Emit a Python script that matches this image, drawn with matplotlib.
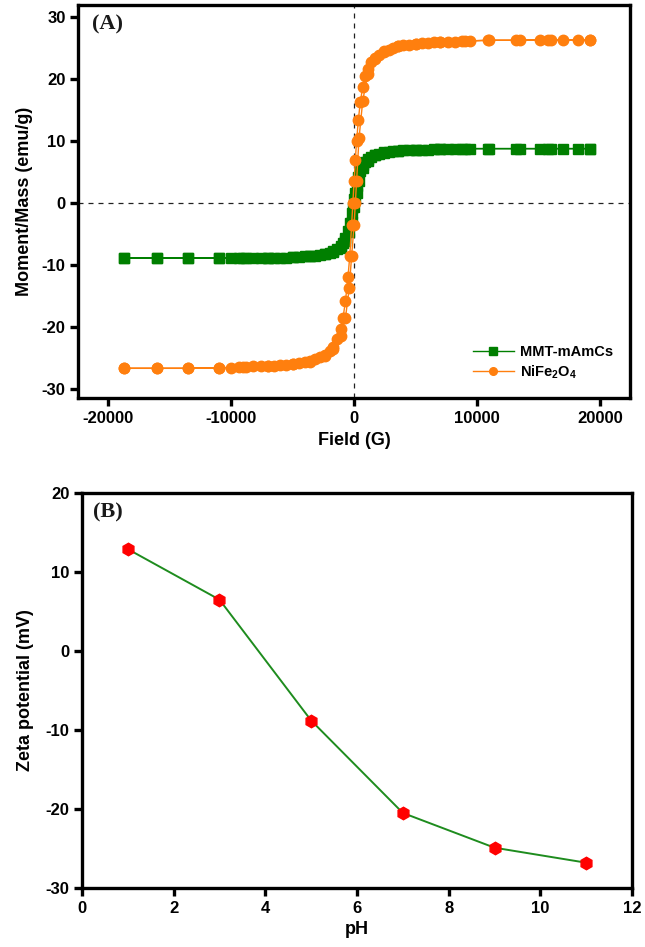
import matplotlib
matplotlib.use("Agg")
import matplotlib.pyplot as plt

plt.rcParams.update(
    {
        "font.family": ["Liberation Sans", "DejaVu Sans"],
        "font.weight": "bold",
        "axes.labelweight": "bold",
        "axes.unicode_minus": False,
        "mathtext.default": "regular",
    }
)

# VSM loops: descending branch (+ -> -) on FIELD_DOWN, ascending branch on FIELD_UP
FIELD_DOWN = [19200, 18200, 17000, 15800, 15100, 13200, 10900, 9400, 8800, 8200,
              7600, 7000, 6500, 6000, 5500, 5000, 4500, 4000, 3600, 3200,
              2800, 2400, 2000, 1700, 1400, 1100, 900, 700, 500, 350,
              200, 100, 0, -100, -200, -350, -500, -700, -900, -1100,
              -1400, -1700, -2000, -2400, -2800, -3200, -3600, -4000, -4500, -5000,
              -5500, -6000, -6500, -7000, -7600, -8200, -8800, -9400, -10000, -11000,
              -13500, -16000, -18700]
FIELD_UP = [-18700, -16000, -13500, -11000, -9000, -7000, -5000, -3600, -2400, -1700,
            -1100, -700, -400, -200, 0, 100, 200, 400, 700, 1100,
            1700, 2400, 3600, 5000, 7000, 9000, 11000, 13500, 16000, 19200]

MMT_DOWN = [8.8, 8.8, 8.8, 8.8, 8.8, 8.8, 8.8, 8.8, 8.8, 8.7,
            8.7, 8.7, 8.7, 8.6, 8.6, 8.6, 8.5, 8.5, 8.4, 8.4,
            8.3, 8.2, 8.0, 7.8, 7.5, 7.1, 6.7, 6.1, 5.2, 4.2,
            2.8, 1.6, 0.6, -0.6, -1.6, -3.3, -4.5, -5.6, -6.4, -6.9,
            -7.4, -7.8, -8.0, -8.2, -8.4, -8.5, -8.6, -8.6, -8.7, -8.7,
            -8.8, -8.8, -8.8, -8.8, -8.9, -8.9, -8.9, -8.9, -8.9, -8.9,
            -8.9, -8.9, -8.9]
MMT_UP = [-8.9, -8.9, -8.9, -8.9, -8.9, -8.8, -8.7, -8.6, -8.2, -7.9,
          -7.2, -6.2, -4.7, -3.0, -0.6, 0.6, 1.7, 3.6, 5.7, 6.8,
          7.7, 8.1, 8.4, 8.6, 8.7, 8.8, 8.8, 8.8, 8.8, 8.8]

NIFE_DOWN = [26.4, 26.3, 26.4, 26.3, 26.4, 26.3, 26.3, 26.2, 26.2, 26.1,
             26.1, 26.0, 26.0, 25.9, 25.8, 25.7, 25.6, 25.5, 25.3, 25.1,
             24.8, 24.5, 24.0, 23.5, 22.8, 21.7, 20.6, 18.8, 16.3, 13.5,
             10.0, 7.0, 3.5, 0.0, -3.5, -8.5, -12.0, -15.8, -18.5, -20.3,
             -22.0, -23.2, -23.9, -24.5, -24.9, -25.2, -25.5, -25.7, -25.9, -26.0,
             -26.1, -26.2, -26.3, -26.3, -26.4, -26.4, -26.5, -26.5, -26.6, -26.6,
             -26.7, -26.7, -26.7]
NIFE_UP = [-26.7, -26.7, -26.7, -26.6, -26.5, -26.3, -26.0, -25.6, -24.7, -23.6,
           -21.5, -18.5, -13.8, -8.5, -3.5, 0.0, 3.5, 10.5, 16.5, 20.8,
           23.3, 24.4, 25.3, 25.7, 26.0, 26.2, 26.3, 26.3, 26.4, 26.3]

# zeta potential vs pH
PH = [1, 3, 5, 7, 9, 11]
ZETA = [12.9, 6.5, -8.8, -20.5, -24.9, -26.8]

GREEN = "#007F00"
ORANGE = "#FF7F0E"


def style_axes(ax):
    for sp in ax.spines.values():
        sp.set_linewidth(2.4)
    ax.tick_params(axis="both", which="major", direction="out", length=6, width=2.4,
                   labelsize=12, top=False, right=False, pad=3)
    for lab in ax.get_xticklabels() + ax.get_yticklabels():
        lab.set_fontweight("bold")


fig = plt.figure(figsize=(6.45, 9.47), dpi=100)
fig.patch.set_facecolor("white")

# panel A
ax1 = fig.add_axes([0.121, 0.5797, 0.856, 0.415])
ax1.axhline(0, color="#222222", ls=(0, (4, 4)), lw=0.9, zorder=1)
ax1.axvline(0, color="#222222", ls=(0, (4, 4)), lw=0.9, zorder=1)
ax1.plot(FIELD_DOWN + FIELD_UP, MMT_DOWN + MMT_UP, color=GREEN, lw=1.0, marker="s",
         ms=7.5, mec=GREEN, mfc=GREEN, label="MMT-mAmCs", zorder=3)
ax1.plot(FIELD_DOWN + FIELD_UP, NIFE_DOWN + NIFE_UP, color=ORANGE, lw=1.0, marker="o",
         ms=7.5, mec=ORANGE, mfc=ORANGE, label="NiFe$_2$O$_4$", zorder=4)
ax1.set_xlim(-22450, 22450)
ax1.set_ylim(-31.5, 32)
ax1.set_xticks([-20000, -10000, 0, 10000, 20000])
ax1.set_yticks([-30, -20, -10, 0, 10, 20, 30])
ax1.set_xlabel("Field (G)", fontsize=13, fontweight="bold", labelpad=5)
ax1.set_ylabel("Moment/Mass (emu/g)", fontsize=13, fontweight="bold", labelpad=6)
style_axes(ax1)
leg = ax1.legend(loc="lower right", frameon=False, handlelength=2.8,
                 handletextpad=0.4, labelspacing=0.25, borderaxespad=0.8,
                 prop={"weight": "bold", "size": 10.5})
for h in leg.legend_handles:
    h.set_markersize(5.5)
ax1.text(0.025, 0.975, "(A)", transform=ax1.transAxes, ha="left", va="top",
         fontsize=16, fontweight="bold", family=["Liberation Serif", "DejaVu Serif"],
         color="#1a1a1a")

# panel B
ax2 = fig.add_axes([0.127, 0.0623, 0.853, 0.4171])
ax2.plot(PH, ZETA, color="#1E8C1E", lw=1.4, marker="h", ms=9, mfc="#FF0000",
         mec="#FF0000", zorder=3)
ax2.set_xlim(0, 12)
ax2.set_ylim(-30, 20)
ax2.set_xticks(range(0, 13, 2))
ax2.set_yticks([-30, -20, -10, 0, 10, 20])
ax2.set_xlabel("pH", fontsize=13, fontweight="bold", labelpad=4)
ax2.set_ylabel("Zeta potential (mV)", fontsize=13, fontweight="bold", labelpad=8)
style_axes(ax2)
ax2.text(0.02, 0.975, "(B)", transform=ax2.transAxes, ha="left", va="top",
         fontsize=16, fontweight="bold", family=["Liberation Serif", "DejaVu Serif"],
         color="#1a1a1a")

fig.savefig("out.png", dpi=100)
